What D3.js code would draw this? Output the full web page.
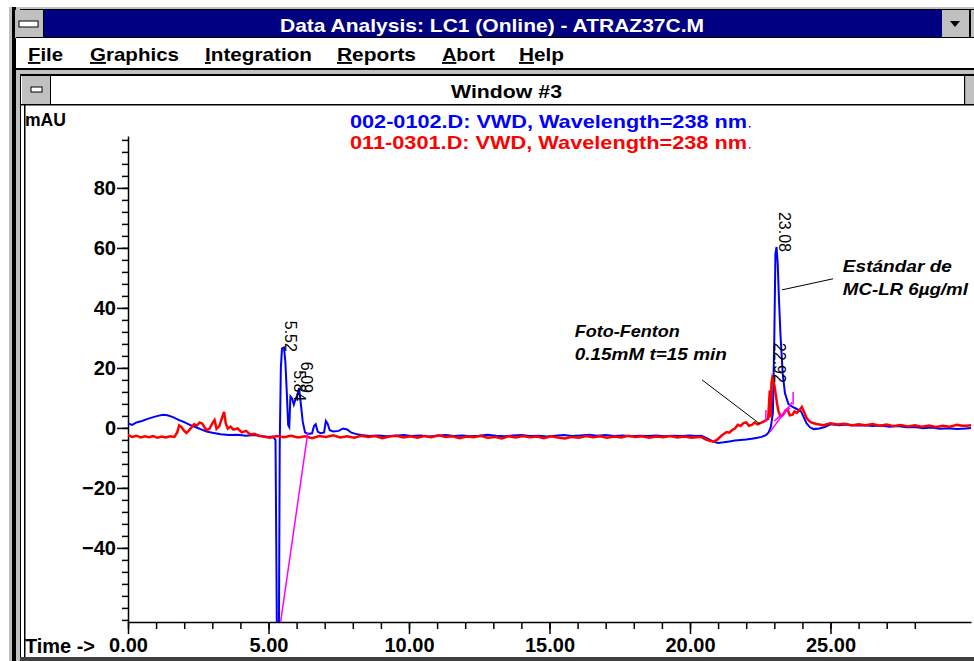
<!DOCTYPE html>
<html>
<head>
<meta charset="utf-8">
<script src="https://cdn.jsdelivr.net/npm/d3@7"></script>
<style>
  body { margin: 0; background: #fff; }
  svg { display: block; font-family: "Liberation Sans", Arial, sans-serif; }
  .axis text { font-weight: bold; font-size: 20px; fill: #000; font-family: "Liberation Sans", Arial, sans-serif; }
  .axis path, .axis line { stroke: #000; stroke-width: 1.5; }
</style>
</head>
<body>
<div id="chart"></div>
<script>
// ---- data (time in min, signal in mAU) ----
const blueTrace = [
  [0.00, 1.5], [0.15, 1.0], [0.30, 1.8], [0.50, 2.3], [0.70, 3.0], [0.90, 3.6], [1.10, 4.1],
  [1.25, 4.4], [1.40, 4.2], [1.60, 3.6], [1.80, 2.7], [2.00, 1.9], [2.20, 1.0], [2.40, 0.3],
  [2.60, -0.5], [2.80, -1.2], [3.00, -1.6], [3.30, -2.1], [3.60, -2.4], [3.90, -2.3], [4.20, -2.6],
  [4.50, -2.4], [4.80, -2.8], [5.00, -3.0], [5.15, -2.9], [5.25, -4.0], [5.30, -70], [5.37, -70],
  [5.40, -5], [5.44, 20], [5.48, 26.5], [5.55, 26.8], [5.60, 22], [5.65, 12], [5.70, 1.0],
  [5.74, 0.3], [5.78, 10.5], [5.84, 9.8], [5.90, 7.8], [5.96, 9.5], [6.03, 11.0], [6.09, 13.3],
  [6.15, 8.0], [6.22, 2.0], [6.30, -1.5], [6.40, -2.0], [6.55, -1.8], [6.62, 0.6], [6.68, 1.2],
  [6.75, -1.2], [6.85, -1.8], [6.98, -1.5], [7.04, 2.3], [7.10, 1.5], [7.18, -0.8], [7.30, -1.2],
  [7.50, -1.0], [7.65, -0.2], [7.80, -0.5], [7.95, -1.6], [8.10, -2.0], [8.30, -2.4], [8.60, -2.7],
  [8.90, -2.5], [9.20, -2.8], [9.50, -2.6], [9.80, -2.4], [10.10, -2.7], [10.40, -2.5], [10.70, -2.9],
  [11.00, -2.6], [11.30, -2.4], [11.60, -2.7], [11.90, -2.5], [12.20, -2.8], [12.50, -2.6],
  [12.80, -2.3], [13.10, -2.6], [13.40, -2.8], [13.70, -2.5], [14.00, -2.4], [14.30, -2.7],
  [14.60, -2.6], [14.90, -2.9], [15.20, -2.6], [15.50, -2.4], [15.80, -2.7], [16.10, -2.5],
  [16.40, -2.3], [16.70, -2.6], [17.00, -2.4], [17.30, -2.7], [17.60, -2.5], [17.90, -2.8],
  [18.20, -2.6], [18.50, -2.7], [18.80, -2.5], [19.10, -2.8], [19.40, -2.6], [19.70, -2.7],
  [20.00, -2.5], [20.20, -2.7], [20.40, -2.6], [20.60, -3.4], [20.80, -4.5], [21.00, -5.0],
  [21.20, -4.8], [21.40, -4.5], [21.60, -4.2], [21.80, -4.0], [22.00, -3.9], [22.20, -3.6],
  [22.40, -3.3], [22.55, -3.0], [22.70, -2.4], [22.80, -1.5], [22.88, 0.5], [22.95, 5.0],
  [23.00, 30], [23.04, 58], [23.08, 60.3], [23.12, 55], [23.17, 42], [23.22, 31], [23.30, 18],
  [23.38, 11.5], [23.50, 8.0], [23.65, 7.0], [23.80, 6.3], [23.95, 5.5], [24.05, 3.5], [24.15, 1.5],
  [24.27, 0.2], [24.40, -0.4], [24.60, -0.2], [24.80, 0.3], [25.00, 1.2], [25.30, 0.9], [25.60, 1.1],
  [25.90, 0.8], [26.20, 0.9], [26.50, 0.6], [26.80, 0.8], [27.10, 0.4], [27.40, 0.6], [27.70, 0.2],
  [28.00, 0.3], [28.30, -0.1], [28.60, 0.1], [28.90, -0.3], [29.20, -0.1], [29.50, -0.4],
  [29.80, -0.2], [30.00, 0.0]
];

const redTrace = [
  [0.00, -2.4], [0.15, -3.0], [0.30, -2.6], [0.45, -3.2], [0.60, -2.8], [0.75, -3.1], [0.90, -2.7],
  [1.05, -3.3], [1.20, -2.9], [1.35, -3.2], [1.50, -2.8], [1.65, -3.0], [1.75, -1.5], [1.82, 0.8],
  [1.90, 0.3], [2.00, -1.0], [2.08, -1.7], [2.20, -0.5], [2.35, 1.2], [2.45, 0.8], [2.55, 1.8],
  [2.65, 1.4], [2.72, 0.2], [2.80, -0.7], [2.90, -0.3], [3.00, 1.5], [3.08, 2.6], [3.15, -0.3],
  [3.25, 0.6], [3.35, 3.5], [3.42, 5.3], [3.48, 1.5], [3.55, -0.2], [3.65, 0.4], [3.75, -0.6],
  [3.90, -0.2], [4.05, -1.5], [4.20, -1.0], [4.35, -2.2], [4.50, -2.0], [4.65, -2.6], [4.80, -2.9],
  [5.05, -3.3], [5.30, -2.7], [5.55, -3.1], [5.80, -2.6], [6.05, -3.2], [6.30, -2.8], [6.55, -3.4],
  [6.80, -2.7], [7.05, -3.0], [7.30, -2.5], [7.55, -3.2], [7.80, -2.8], [8.05, -3.3], [8.30, -2.6],
  [8.55, -3.0], [8.80, -2.7], [9.05, -3.4], [9.30, -2.9], [9.55, -2.6], [9.80, -3.2], [10.05, -2.8],
  [10.30, -3.3], [10.55, -2.7], [10.80, -3.1], [11.05, -2.5], [11.30, -3.0], [11.55, -2.8],
  [11.80, -3.4], [12.05, -2.9], [12.30, -3.1], [12.55, -2.6], [12.80, -3.3], [13.05, -3.0],
  [13.30, -3.5], [13.55, -2.8], [13.80, -3.2], [14.05, -2.7], [14.30, -3.1], [14.55, -2.9],
  [14.80, -3.4], [15.05, -2.8], [15.30, -3.2], [15.55, -3.5], [15.80, -3.0], [16.05, -3.3],
  [16.30, -2.7], [16.55, -3.1], [16.80, -2.8], [17.05, -3.3], [17.30, -2.9], [17.55, -3.2],
  [17.80, -2.6], [18.05, -3.0], [18.30, -2.8], [18.55, -3.3], [18.80, -2.9], [19.05, -3.1],
  [19.30, -2.7], [19.55, -3.2], [19.80, -2.9], [20.05, -3.3], [20.30, -3.0], [20.40, -3.0],
  [20.55, -3.8], [20.70, -4.3], [20.85, -4.6], [20.96, -4.0], [21.10, -2.8], [21.20, -2.0],
  [21.30, -1.4], [21.40, -1.6], [21.50, -0.7], [21.60, -0.2], [21.70, 1.0], [21.80, 0.6],
  [21.90, 1.6], [22.00, 1.8], [22.10, 0.7], [22.20, 1.0], [22.30, 1.8], [22.40, 1.2], [22.50, 1.6],
  [22.60, 2.0], [22.70, 2.6], [22.78, 3.0], [22.84, 12.5], [22.87, 3.5], [22.90, 15.0],
  [22.93, 16.7], [22.98, 15.5], [23.03, 12.5], [23.10, 8.0], [23.15, 5.5], [23.22, 3.8],
  [23.30, 4.2], [23.40, 5.8], [23.47, 6.2], [23.55, 4.2], [23.65, 4.4], [23.72, 5.5], [23.80, 5.0],
  [23.90, 6.0], [23.98, 7.0], [24.05, 5.5], [24.15, 3.3], [24.25, 2.2], [24.35, 1.7], [24.50, 1.3],
  [24.75, 0.9], [25.00, 1.5], [25.25, 1.1], [25.50, 1.4], [25.75, 0.8], [26.00, 1.2], [26.25, 0.9],
  [26.50, 1.3], [26.75, 0.7], [27.00, 1.1], [27.25, 0.6], [27.50, 1.0], [27.75, 0.5], [28.00, 0.9],
  [28.25, 0.4], [28.50, 0.8], [28.75, 0.3], [29.00, 0.7], [29.25, 0.4], [29.50, 1.0], [29.75, 0.6],
  [30.00, 0.9]
];

// integration baselines / peak markers (magenta)
const magentaBaselines = [
  [[5.35, -70], [6.40, -1.5]],
  [[22.70, 2.0], [22.70, 6.0]],
  [[22.85, -1.3], [23.63, 8.5]],
  [[22.99, 2.3], [23.56, 6.7]],
  [[23.67, 7.7], [23.67, 12.0]]
];

const peakLabels = [
  { t: 5.52, v: 27.0, label: "5.52" },
  { t: 5.84, v: 10.5, label: "5.84" },
  { t: 6.09, v: 13.3, label: "6.09" },
  { t: 22.92, v: 16.7, label: "22.92" },
  { t: 23.08, v: 60.3, label: "23.08" }
];

const legendLines = [
  { text: "002-0102.D: VWD, Wavelength=238 nm", color: "#0000ff" },
  { text: "011-0301.D: VWD, Wavelength=238 nm", color: "#ff0000" }
];

const xTickValues = [0, 5, 10, 15, 20, 25];
const yTickValues = [-40, -20, 0, 20, 40, 60, 80];
const xDomain = [0, 30];
const yDomain = [-64.7, 97.3];

const menuItems = ["File", "Graphics", "Integration", "Reports", "Abort", "Help"];

// ---- window chrome ----
const W = 974, H = 661;
const svg = d3.select("#chart").append("svg").attr("width", W).attr("height", H);
const chrome = svg.append("g").attr("class", "chrome");

function box(x, y, w, h, fill) {
  return chrome.append("rect").attr("x", x).attr("y", y).attr("width", w).attr("height", h).attr("fill", fill);
}

// outer frame
box(9, 7, W - 9, 3, "#c0c0c0");
box(9, 9, W - 9, 1, "#000");
box(9, 7, 11, H - 7, "#c0c0c0");
box(12, 7, 4, H - 7, "#000");
box(20, 68, 1, H - 68, "#000");
box(24, 104, 1.5, H - 104, "#000");

// title bar
box(16, 10, W - 16, 28, "#000080");
box(15, 10, 28, 28, "#c0c0c0");
box(43, 10, 1, 28, "#000");
box(19, 21, 19, 6, "#fff").attr("stroke", "#000").attr("stroke-width", 1);
box(942, 10, 27, 28, "#c0c0c0");
box(969, 10, 2, 28, "#000");
box(971, 10, 3, 28, "#c0c0c0");
chrome.append("path").attr("d", "M950,21 L960,21 L955,27 Z").attr("fill", "#000");
chrome.append("text")
  .attr("x", 280).attr("y", 32)
  .attr("textLength", 424).attr("lengthAdjust", "spacingAndGlyphs")
  .attr("font-size", 19).attr("font-weight", "bold").attr("fill", "#fff")
  .text("Data Analysis: LC1 (Online) - ATRAZ37C.M");

// menu bar
box(16, 38, W - 16, 30, "#fff");
box(16, 37, W - 16, 1, "#000");
const menuX = [28, 90, 205, 337, 442, 519];
const menuW = [35, 89, 107, 79, 53, 45];
menuItems.forEach((m, i) => {
  const t = chrome.append("text")
    .attr("x", menuX[i]).attr("y", 61)
    .attr("textLength", menuW[i]).attr("lengthAdjust", "spacingAndGlyphs")
    .attr("font-size", 19).attr("font-weight", "bold").attr("fill", "#000");
  t.append("tspan").attr("text-decoration", "underline").text(m[0]);
  t.append("tspan").text(m.slice(1));
});

// child window frame + title
box(16, 68, W - 16, 2, "#000");
box(16, 70, W - 16, 4, "#c0c0c0");
box(20, 74, W - 20, 2, "#000");
box(21, 76, W - 21, 28, "#fff");
box(21, 104, W - 21, 1.5, "#000");
box(22, 76, 28, 28, "#c0c0c0");
box(50, 76, 1, 28, "#000");
box(31, 87, 11, 5, "#fff").attr("stroke", "#000").attr("stroke-width", 1);
box(964, 76, 1.5, 28, "#000");
box(965.5, 76, 9, 28, "#c0c0c0");
chrome.append("text")
  .attr("x", 451).attr("y", 98)
  .attr("textLength", 111).attr("lengthAdjust", "spacingAndGlyphs")
  .attr("font-size", 19).attr("font-weight", "bold").attr("fill", "#000")
  .text("Window #3");

// bottom edge
box(20, 657, W - 20, 4, "#404040");

// ---- plot ----
const x = d3.scaleLinear().domain(xDomain).range([128, 971]);
const y = d3.scaleLinear().domain(yDomain).range([622, 136]);

svg.append("defs").append("clipPath").attr("id", "plotClip")
  .append("rect").attr("x", 128).attr("y", 136).attr("width", 846).attr("height", 486);

// legend
legendLines.forEach((l, i) => {
  svg.append("text")
    .attr("x", 350).attr("y", 128 + i * 21)
    .attr("textLength", 397).attr("lengthAdjust", "spacingAndGlyphs")
    .attr("font-size", 19).attr("font-weight", "bold").attr("fill", l.color)
    .text(l.text);
  svg.append("rect").attr("x", 749).attr("y", 126 + i * 21).attr("width", 1.5).attr("height", 1.5).attr("fill", l.color);
});

svg.append("text")
  .attr("x", 25).attr("y", 126)
  .attr("textLength", 41).attr("lengthAdjust", "spacingAndGlyphs")
  .attr("font-size", 19).attr("font-weight", "bold")
  .text("mAU");

// y axis: minor ticks then major ticks
svg.append("g")
  .attr("class", "axis y-minor")
  .attr("transform", "translate(128,0)")
  .call(d3.axisLeft(y).tickValues(d3.range(-64, 97, 4)).tickSize(6).tickFormat(""))
  .call((g) => g.select(".domain").remove());

svg.append("g")
  .attr("class", "axis y-axis")
  .attr("transform", "translate(128,0)")
  .call(d3.axisLeft(y).tickValues(yTickValues).tickSize(11).tickSizeOuter(0).tickPadding(1).tickFormat(d3.format("d")));

// x axis
svg.append("g")
  .attr("class", "axis x-minor")
  .attr("transform", "translate(0,622)")
  .call(d3.axisBottom(x).tickValues(d3.range(0, 29, 1)).tickSize(7).tickFormat(""))
  .call((g) => g.select(".domain").remove());

svg.append("g")
  .attr("class", "axis x-axis")
  .attr("transform", "translate(0,622)")
  .call(d3.axisBottom(x).tickValues(xTickValues).tickSize(12).tickSizeOuter(0).tickPadding(4).tickFormat(d3.format(".2f")));

svg.append("text")
  .attr("x", 25).attr("y", 653)
  .attr("textLength", 70).attr("lengthAdjust", "spacingAndGlyphs")
  .attr("font-size", 20).attr("font-weight", "bold")
  .text("Time ->");

// traces
const line = d3.line().x((d) => x(d[0])).y((d) => y(d[1]));
const plot = svg.append("g").attr("clip-path", "url(#plotClip)");

plot.append("path").datum(blueTrace)
  .attr("fill", "none").attr("stroke", "#0000ff").attr("stroke-width", 2)
  .attr("stroke-linejoin", "miter").attr("d", line);

plot.append("path").datum(redTrace)
  .attr("fill", "none").attr("stroke", "#ff0000").attr("stroke-width", 2.5)
  .attr("d", line);

plot.selectAll(".baseline")
  .data(magentaBaselines)
  .join("path")
  .attr("class", "baseline")
  .attr("fill", "none").attr("stroke", "#ff00ff").attr("stroke-width", 1.5)
  .attr("d", line);

// retention-time labels
plot.selectAll(".rt")
  .data(peakLabels)
  .join("text")
  .attr("class", "rt")
  .attr("transform", (d) => `translate(${x(d.t) + 2},${y(d.v) + 5}) rotate(90)`)
  .attr("text-anchor", "end")
  .attr("font-size", 16)
  .attr("fill", "#000")
  .text((d) => d.label);

// annotations (anchored in data units)
const notes = [
  { t: 15.9, v: 30.3, text: "Foto-Fenton", len: 105 },
  { t: 15.9, v: 22.7, text: "0.15mM t=15 min", len: 152 },
  { t: 25.44, v: 52.0, text: "Estándar de", len: 109 },
  { t: 25.44, v: 44.3, text: "MC-LR 6µg/ml", len: 125 }
];
const leaders = [
  [[20.43, 16.0], [22.49, 1.3]],
  [[23.27, 46.0], [25.09, 49.7]]
];

svg.selectAll(".note")
  .data(notes)
  .join("text")
  .attr("class", "note")
  .attr("x", (d) => x(d.t)).attr("y", (d) => y(d.v))
  .attr("textLength", (d) => d.len).attr("lengthAdjust", "spacingAndGlyphs")
  .attr("font-size", 17).attr("font-weight", "bold").attr("font-style", "italic")
  .text((d) => d.text);

svg.selectAll(".leader")
  .data(leaders)
  .join("path")
  .attr("class", "leader")
  .attr("fill", "none").attr("stroke", "#000").attr("stroke-width", 1)
  .attr("d", line);
</script>
</body>
</html>
